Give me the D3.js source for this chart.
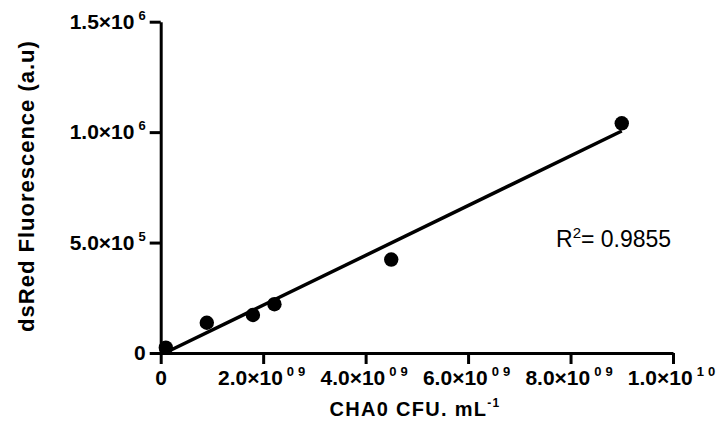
<!DOCTYPE html>
<html>
<head>
<meta charset="utf-8">
<script src="https://cdn.jsdelivr.net/npm/d3@7"></script>
<style>
  body { margin: 0; background: #fff; }
  svg { display: block; font-family: "Liberation Sans", Arial, sans-serif; }
</style>
</head>
<body>
<div id="chart"></div>
<script>
// data
const cfu = [1.0e8, 0.9e9, 1.8e9, 2.22e9, 4.5e9, 9.0e9]
const fluorescence = [2.4e4, 1.37e5, 1.72e5, 2.21e5, 4.23e5, 1.04e6]

// linear fit drawn on the plot
const fitSlope = 1.127e-4
const fitIntercept = -9.0e3
const r2Text = "0.9855"

// ticks, mantissa + exponent as shown
const xTicks = [0, 2e9, 4e9, 6e9, 8e9, 1e10]
const xTickMant = ["0", "2.0×10", "4.0×10", "6.0×10", "8.0×10", "1.0×10"]
const xTickExp = ["", "09", "09", "09", "09", "10"]

const yTicks = [0, 5e5, 1e6, 1.5e6]
const yTickMant = ["0", "5.0×10", "1.0×10", "1.5×10"]
const yTickExp = ["", "5", "6", "6"]

const W = 725, H = 431
const margin = { top: 21.7, right: 52, bottom: 78, left: 160.7 }

const svg = d3.select("#chart").append("svg")
  .attr("width", W)
  .attr("height", H)

const x = d3.scaleLinear()
  .domain([0, 1e10])
  .range([margin.left, W - margin.right])

const y = d3.scaleLinear()
  .domain([0, 1.5e6])
  .range([H - margin.bottom, margin.top])

// x axis
const xAxis = svg.append("g")
  .attr("transform", `translate(0,${y(0)})`)
  .call(d3.axisBottom(x).tickValues(xTicks).tickSize(11).tickPadding(6).tickSizeOuter(0).tickFormat(""))

xAxis.selectAll(".tick text").each(function (d, i) {
  const t = d3.select(this)
  t.append("tspan").text(xTickMant[i])
  if (xTickExp[i]) {
    t.append("tspan")
      .attr("dx", 4)
      .attr("dy", -9)
      .style("font-size", "13px")
      .style("letter-spacing", "4px")
      .text(xTickExp[i])
  }
})

// y axis
const yAxis = svg.append("g")
  .attr("transform", `translate(${x(0)},0)`)
  .call(d3.axisLeft(y).tickValues(yTicks).tickSize(11).tickPadding(4).tickSizeOuter(0).tickFormat(""))

yAxis.selectAll(".tick text").each(function (d, i) {
  const t = d3.select(this)
  t.append("tspan").text(yTickMant[i])
  if (yTickExp[i]) {
    t.append("tspan")
      .attr("dx", 4)
      .attr("dy", -9)
      .style("font-size", "13px")
      .text(yTickExp[i])
  }
})

svg.selectAll(".domain, .tick line")
  .attr("stroke", "#000")
  .attr("stroke-width", 3)

svg.selectAll(".tick text")
  .attr("fill", "#000")
  .style("font-size", "21px")
  .style("font-weight", "bold")

// fit line over the data range
const xMin = d3.min(cfu), xMax = d3.max(cfu)
svg.append("line")
  .attr("x1", x(xMin))
  .attr("y1", y(fitIntercept + fitSlope * xMin))
  .attr("x2", x(xMax))
  .attr("y2", y(fitIntercept + fitSlope * xMax))
  .attr("stroke", "#000")
  .attr("stroke-width", 3.5)

// points
svg.selectAll("circle.pt")
  .data(cfu)
  .enter()
  .append("circle")
  .attr("class", "pt")
  .attr("cx", d => x(d))
  .attr("cy", (d, i) => y(fluorescence[i]))
  .attr("r", 7.2)
  .attr("fill", "#000")

// axis titles
svg.append("text")
  .attr("transform", "translate(34,186) rotate(-90)")
  .attr("text-anchor", "middle")
  .style("font-size", "22px")
  .style("font-weight", "bold")
  .style("letter-spacing", "1px")
  .text("dsRed Fluorescence (a.u)")

const xt = svg.append("text")
  .attr("x", 415)
  .attr("y", 416)
  .attr("text-anchor", "middle")
  .style("font-size", "20px")
  .style("font-weight", "bold")
  .style("letter-spacing", "1.3px")
xt.append("tspan").text("CHA0 CFU. mL")
xt.append("tspan").attr("dy", -9).style("font-size", "12px").text("-1")

// R squared
const rt = svg.append("text")
  .attr("x", 556)
  .attr("y", 247)
  .style("font-size", "23px")
rt.append("tspan").text("R")
rt.append("tspan").attr("dy", -9).style("font-size", "15px").text("2")
rt.append("tspan").attr("dy", 9).text("= " + r2Text)
</script>
</body>
</html>
